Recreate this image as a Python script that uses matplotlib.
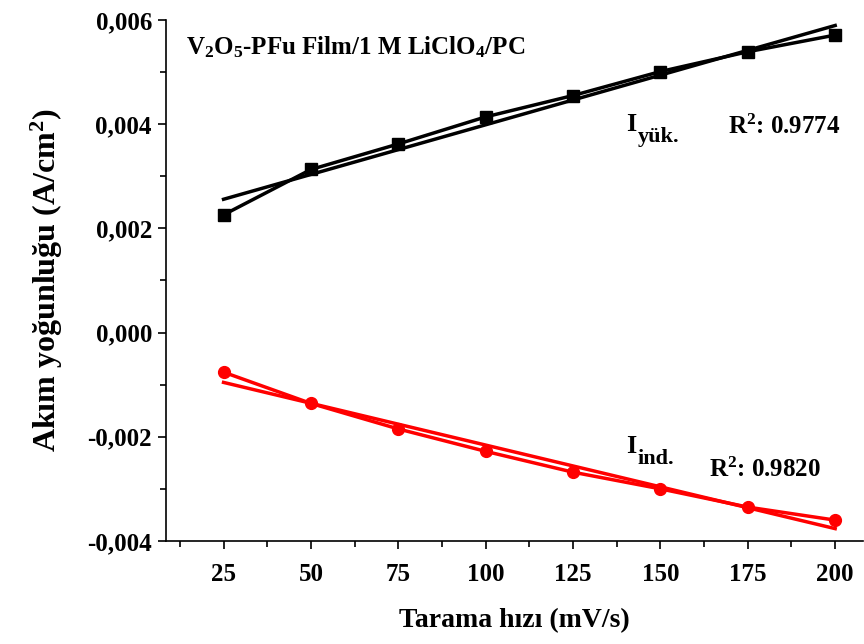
import numpy as np
import matplotlib
matplotlib.use("Agg")
import matplotlib.pyplot as plt
from matplotlib.ticker import MultipleLocator, FuncFormatter

# scan rate (mV/s)
scan_rate = [25, 50, 75, 100, 125, 150, 175, 200]
# anodic (yük.) and cathodic (ind.) current densities (A/cm2)
i_yuk = [0.00226, 0.00313, 0.00362, 0.00414, 0.00455, 0.00501, 0.00539, 0.00571]
i_ind = [-0.00076, -0.00136, -0.00185, -0.00228, -0.00268, -0.00300, -0.00335, -0.00360]

plt.rcParams["font.family"] = ["Liberation Serif", "DejaVu Serif"]
plt.rcParams["font.weight"] = "bold"
plt.rcParams["mathtext.fontset"] = "custom"
plt.rcParams["mathtext.rm"] = "Liberation Serif:bold"
plt.rcParams["mathtext.it"] = "Liberation Serif:bold"
plt.rcParams["mathtext.bf"] = "Liberation Serif:bold"

fig = plt.figure(figsize=(8.64, 6.44), dpi=100)
ax = fig.add_axes([0.192, 0.16, 0.807, 0.809])

x = np.array(scan_rate)
for y, col, mk in [(i_yuk, "black", "s"), (i_ind, "red", "o")]:
    ax.plot(x, y, color=col, marker=mk, ms=8.5, lw=2.5, zorder=3)
    k, b = np.polyfit(x, y, 1)
    ax.plot(x, k * x + b, color=col, lw=2.5, zorder=2)

ax.set_xlim(8.5, 208)
ax.set_ylim(-0.004, 0.006)
ax.xaxis.set_major_locator(MultipleLocator(25))
ax.xaxis.set_minor_locator(MultipleLocator(12.5))
ax.yaxis.set_major_locator(MultipleLocator(0.002))
ax.yaxis.set_minor_locator(MultipleLocator(0.001))
ax.yaxis.set_major_formatter(FuncFormatter(lambda v, p: f"{v:.3f}".replace(".", ",").replace("-0,000", "0,000")))
ax.set_xticks([25, 50, 75, 100, 125, 150, 175, 200])

for s in ["top", "right"]:
    ax.spines[s].set_visible(False)
for s in ["left", "bottom"]:
    ax.spines[s].set_linewidth(1.2)
ax.tick_params(which="major", direction="out", length=6, width=1.2, labelsize=18, pad=4)
ax.tick_params(which="minor", direction="out", length=4, width=1.2)
ax.tick_params(axis="x", pad=10)

ax.set_xlabel("Tarama hızı (mV/s)", fontsize=20, fontweight="bold", labelpad=16)
ax.set_ylabel("Akım yoğunluğu (A/cm$^2$)", fontsize=23, fontweight="bold", labelpad=16)

ax.text(14.2, 0.00548, "V$_2$O$_5$-PFu Film/1 M LiClO$_4$/PC", fontsize=18, va="center")

# I with near full-size subscript, as in the original
for xi, yi, sub, xr, yr, r2 in [(140.3, 0.00400, "yük.", 169.2, 0.00395, "0.9774"),
                                (140.3, -0.00218, "ind.", 163.8, -0.00264, "0.9820")]:
    ax.text(xi, yi, "I", fontsize=19, va="center")
    ax.annotate(sub, (xi, yi), xytext=(8, -9), textcoords="offset points",
                fontsize=16, va="center")
    ax.text(xr, yr, "R$^2$: " + r2, fontsize=18, va="center")

fig.savefig("out.png", dpi=100)
